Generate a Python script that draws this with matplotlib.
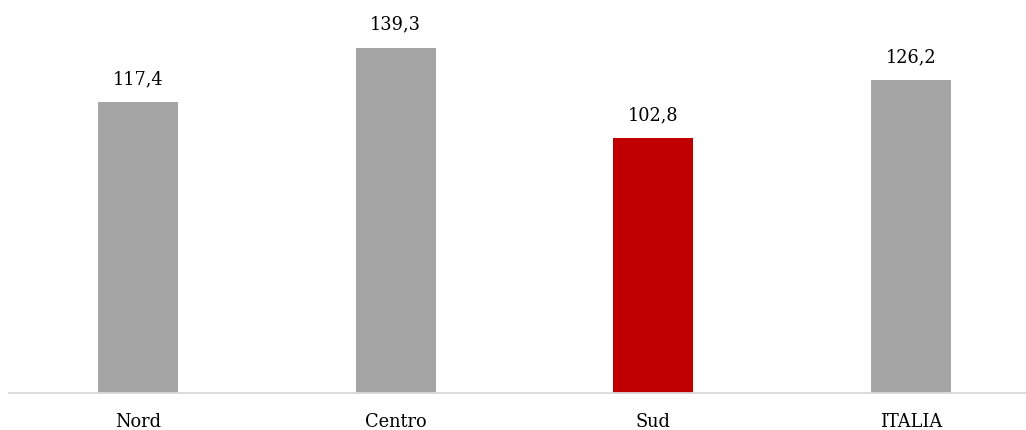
import matplotlib.pyplot as plt

categories = ['Nord', 'Centro', 'Sud', 'ITALIA']
values = [117.4, 139.3, 102.8, 126.2]
labels = ['117,4', '139,3', '102,8', '126,2']
colors = ['#a5a5a5', '#a5a5a5', '#c00000', '#a5a5a5']

plt.rcParams['font.family'] = ['DejaVu Serif']

fig = plt.figure(figsize=(10.26, 4.31), dpi=100)
ax = fig.add_axes([9 / 1026, 37 / 431, 1 - 9 / 1026, 394 / 431])

x = range(len(categories))
ax.bar(x, values, width=0.31, color=colors, zorder=2)
for i, v in enumerate(values):
    ax.annotate(labels[i], (i, v), xytext=(0, 15), textcoords='offset pixels',
                ha='center', va='bottom', fontsize=12.8, color='#000000')

ax.set_xlim(-0.5, 3.5 - 14 / 257.8)
ax.set_ylim(0, 394 / 2.479)
ax.set_xticks(list(x))
ax.set_xticklabels(categories, fontsize=12.8)
ax.tick_params(axis='x', length=0, pad=14)
ax.set_yticks([])
for s in ['top', 'right', 'left']:
    ax.spines[s].set_visible(False)
ax.spines['bottom'].set_color('#d9d9d9')
ax.spines['bottom'].set_linewidth(1.3)

fig.savefig('out.png', dpi=100)
